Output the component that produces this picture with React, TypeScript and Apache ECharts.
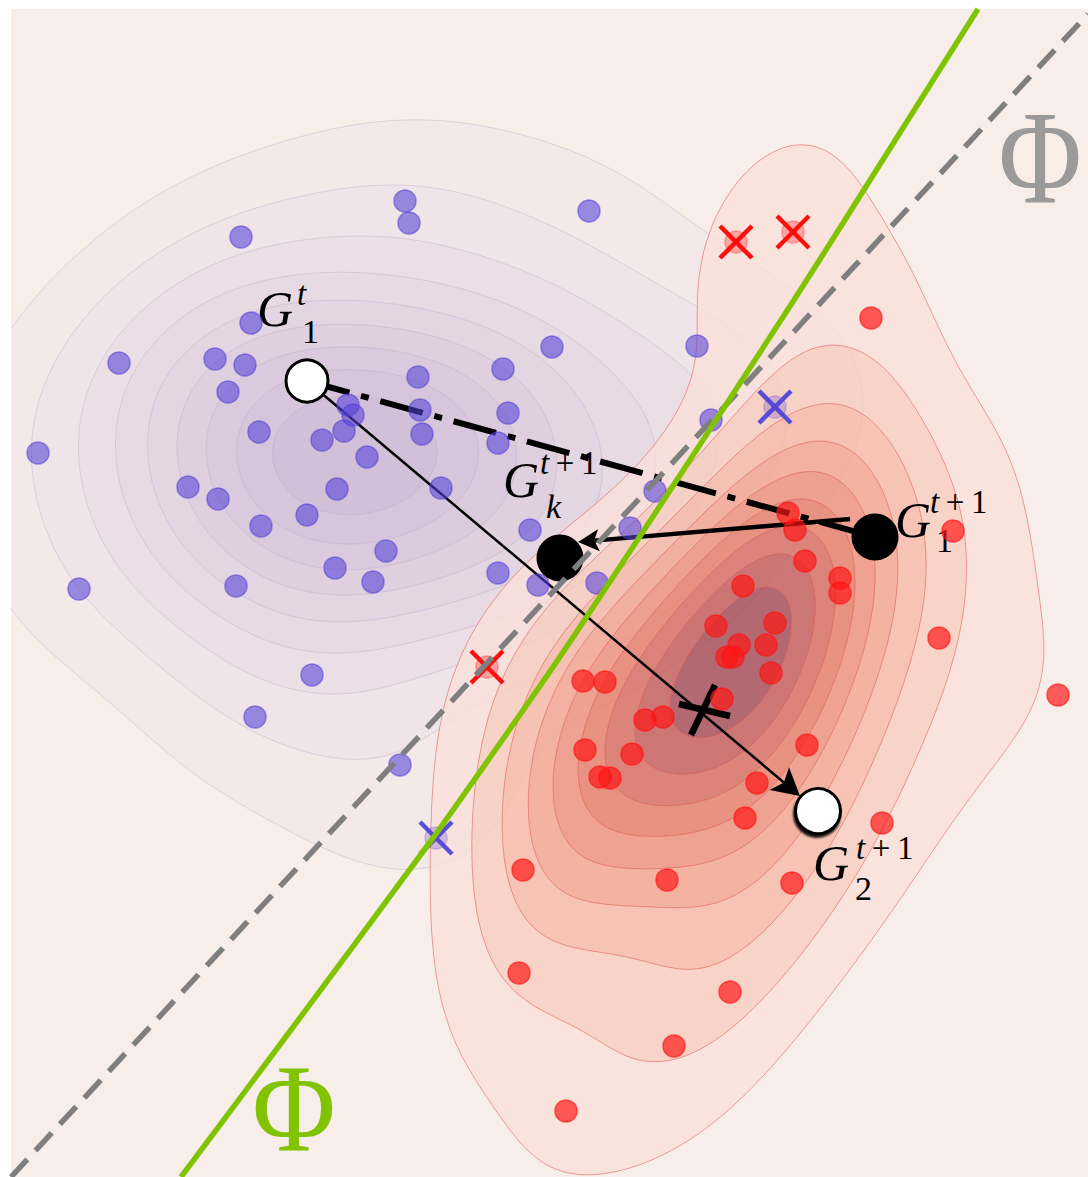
import React, { useEffect, useRef } from "react";
import * as echarts from "echarts";

type Pt = [number, number];

// Visible window of the feature plane
const X_RANGE: Pt = [0, 10.77];
const Y_RANGE: Pt = [0, 11.68];

// Class A samples (blue)
const bluePoints: Pt[] = [
  [3.94, 9.76], [3.98, 9.54], [2.30, 9.40], [5.78, 9.66], [2.40, 8.54],
  [1.08, 8.14], [2.04, 8.18], [2.34, 8.12], [2.17, 7.85], [4.07, 8.00],
  [4.92, 8.08], [5.41, 8.30], [6.86, 8.31], [3.37, 7.72], [3.42, 7.62],
  [4.09, 7.67], [4.97, 7.64], [2.48, 7.45], [3.11, 7.37], [3.33, 7.46],
  [4.11, 7.43], [3.56, 7.20], [0.27, 7.24], [4.87, 7.34], [3.26, 6.88],
  [4.30, 6.89], [1.77, 6.90], [2.07, 6.78], [2.96, 6.62], [2.50, 6.51],
  [3.75, 6.26], [3.24, 6.09], [3.62, 5.95], [0.68, 5.88], [2.25, 5.91],
  [5.19, 6.47], [4.87, 6.04], [5.27, 5.92], [5.86, 5.94], [6.19, 6.49],
  [6.44, 6.86], [7.00, 7.57], [3.01, 5.02], [2.44, 4.60], [3.89, 4.12],
];

// Class B samples (red)
const redPoints: Pt[] = [
  [8.60, 8.59], [7.77, 6.64], [7.84, 6.47], [7.94, 6.16], [8.29, 5.99],
  [8.29, 5.84], [7.32, 5.91], [7.05, 5.51], [7.64, 5.54], [7.28, 5.32],
  [7.55, 5.32], [7.16, 5.20], [7.22, 5.20], [7.60, 5.04], [7.11, 4.78],
  [6.52, 4.60], [6.34, 4.57], [5.94, 4.95], [5.72, 4.96], [5.74, 4.27],
  [6.21, 4.23], [5.89, 4.00], [5.99, 3.99], [7.96, 4.32], [7.46, 3.94],
  [7.34, 3.59], [8.71, 3.54], [6.56, 2.97], [7.81, 2.94], [5.12, 3.07],
  [9.42, 6.46], [9.28, 5.39], [10.47, 4.82], [5.08, 2.04], [7.19, 1.85],
  [6.63, 1.31], [5.55, 0.66],
];

// Samples with flipped labels (drawn with a cross)
const blueFlipped: Pt[] = [[7.64, 7.70], [4.25, 3.39]];
const redFlipped: Pt[] = [[7.25, 9.35], [7.82, 9.45], [4.76, 5.10]];

// Group centres: G1^t, Gk^{t+1}, G1^{t+1}, G2^{t+1}
const centroids: Pt[] = [[2.96, 7.96], [5.49, 6.19], [8.64, 6.40], [8.07, 3.66]];
const centroidSup = ["t", "t+1", "t+1", "t+1"];
const centroidSub = ["1", "k", "1", "2"];
const meanMarker: Pt = [6.92, 4.66];

// Links between centres: [fromX, fromY, toX, toY]
const links: number[][] = [
  [2.96, 7.96, 8.64, 6.40], // dash-dot G1^t -> G1^{t+1}
  [2.96, 7.96, 7.89, 3.81], // arrow G1^t -> G2^{t+1}
  [8.39, 6.58, 5.67, 6.35], // arrow G1^{t+1} -> Gk^{t+1}
];

// Decision boundaries
const boundaryGreen: Pt[] = [
  [9.67, 11.68], [8.32, 9.54], [7.83, 8.77], [6.92, 7.37], [6.41, 6.59],
  [5.42, 5.10], [4.22, 3.39], [2.65, 1.27], [1.70, 0.0],
];
const boundaryGray: Pt[] = [[0, 0], [10.77, 11.63]];

// Filled density bands, outer -> inner
const blueBandColors = [
  "rgb(243,233,233)", "rgb(239,228,231)", "rgb(235,223,229)", "rgb(231,218,227)",
  "rgb(227,213,225)", "rgb(223,207,223)", "rgb(219,202,221)", "rgb(215,197,219)",
  "rgb(210,191,216)",
];
const redBandColors = [
  "rgba(250,223,217,0.8)", "rgba(248,204,190,0.8)", "rgba(246,184,166,0.8)",
  "rgba(242,164,142,0.8)", "rgba(236,143,122,0.8)", "rgba(227,123,104,0.8)",
  "rgba(213,104,94,0.8)", "rgba(193,88,88,0.8)", "rgba(161,71,82,0.8)",
];

const FONT = '"Liberation Serif", "Times New Roman", serif';

interface DensityGrid {
  nx: number;
  ny: number;
  x0: number;
  y0: number;
  step: number;
  vals: Float64Array;
}

// Gaussian KDE with Scott's bandwidth and the full sample covariance
function gaussianKde(points: Pt[], bwAdjust: number): DensityGrid {
  const x0 = -3, y0 = -3, step = 0.05;
  const nx = Math.round(17 / step) + 1;
  const ny = Math.round(18 / step) + 1;
  const n = points.length;
  let mx = 0, my = 0;
  for (const p of points) { mx += p[0]; my += p[1]; }
  mx /= n; my /= n;
  let sxx = 0, syy = 0, sxy = 0;
  for (const p of points) {
    const dx = p[0] - mx, dy = p[1] - my;
    sxx += dx * dx; syy += dy * dy; sxy += dx * dy;
  }
  sxx /= n - 1; syy /= n - 1; sxy /= n - 1;
  const f = Math.pow(n, -1 / 6) * bwAdjust;
  const a = sxx * f * f, c = syy * f * f, b = sxy * f * f;
  const det = a * c - b * b;
  const ia = c / det, ib = -b / det, ic = a / det;
  const vals = new Float64Array(nx * ny);
  for (let j = 1; j < ny - 1; j++) {
    const y = y0 + j * step;
    for (let i = 1; i < nx - 1; i++) {
      const x = x0 + i * step;
      let s = 0;
      for (let k = 0; k < n; k++) {
        const dx = x - points[k][0], dy = y - points[k][1];
        s += Math.exp(-0.5 * (ia * dx * dx + 2 * ib * dx * dy + ic * dy * dy));
      }
      vals[j * nx + i] = s;
    }
  }
  return { nx, ny, x0, y0, step, vals };
}

// Evenly spaced density levels between zero and the peak
function linearLevels(vals: Float64Array, count: number): number[] {
  let vmax = 0;
  for (let i = 0; i < vals.length; i++) if (vals[i] > vmax) vmax = vals[i];
  const out: number[] = [];
  for (let k = 1; k <= count; k++) out.push((vmax * k) / (count + 1));
  return out;
}

// Marching squares; every loop keeps the denser side on its left
function contourLoops(g: DensityGrid, level: number): Pt[][] {
  const { nx, ny, vals, x0, y0, step } = g;
  const next = new Map<number, number>();
  const h = (i: number, j: number) => (j * nx + i) * 2;
  const v = (i: number, j: number) => (j * nx + i) * 2 + 1;
  for (let j = 0; j < ny - 1; j++) {
    for (let i = 0; i < nx - 1; i++) {
      const a = vals[j * nx + i];
      const b = vals[j * nx + i + 1];
      const c = vals[(j + 1) * nx + i + 1];
      const d = vals[(j + 1) * nx + i];
      const idx = (a > level ? 1 : 0) | (b > level ? 2 : 0) | (c > level ? 4 : 0) | (d > level ? 8 : 0);
      if (idx === 0 || idx === 15) continue;
      const B = h(i, j), R = v(i + 1, j), T = h(i, j + 1), L = v(i, j);
      const centerIn = (a + b + c + d) / 4 > level;
      switch (idx) {
        case 1: next.set(B, L); break;
        case 2: next.set(R, B); break;
        case 3: next.set(R, L); break;
        case 4: next.set(T, R); break;
        case 5:
          if (centerIn) { next.set(B, R); next.set(T, L); } else { next.set(B, L); next.set(T, R); }
          break;
        case 6: next.set(T, B); break;
        case 7: next.set(T, L); break;
        case 8: next.set(L, T); break;
        case 9: next.set(B, T); break;
        case 10:
          if (centerIn) { next.set(L, B); next.set(R, T); } else { next.set(R, B); next.set(L, T); }
          break;
        case 11: next.set(R, T); break;
        case 12: next.set(L, R); break;
        case 13: next.set(B, R); break;
        case 14: next.set(L, B); break;
      }
    }
  }
  const edgePoint = (id: number): Pt => {
    const vert = id & 1;
    const cell = id >> 1;
    const i = cell % nx;
    const j = (cell - i) / nx;
    const va = vals[j * nx + i];
    if (!vert) {
      const vb = vals[j * nx + i + 1];
      const t = (level - va) / (vb - va);
      return [x0 + (i + t) * step, y0 + j * step];
    }
    const vb = vals[(j + 1) * nx + i];
    const t = (level - va) / (vb - va);
    return [x0 + i * step, y0 + (j + t) * step];
  };
  const seen = new Set<number>();
  const loops: Pt[][] = [];
  for (const start of next.keys()) {
    if (seen.has(start)) continue;
    const loop: Pt[] = [];
    let e: number | undefined = start;
    while (e !== undefined && !seen.has(e)) {
      seen.add(e);
      loop.push(edgePoint(e));
      e = next.get(e);
    }
    if (loop.length > 2) loops.push(loop);
  }
  return loops;
}

function densityLoops(points: Pt[], bwAdjust: number): Pt[][][] {
  const g = gaussianKde(points, bwAdjust);
  const levels = linearLevels(g.vals, 9);
  return levels.map((l) => contourLoops(g, l));
}

function kdeSeries(loops: Pt[][][], fills: string[], lineColor: string) {
  const nb = fills.length;
  const data: number[][] = [];
  for (let i = 0; i < nb * 2; i++) data.push([0, 0]);
  return {
    type: "custom",
    coordinateSystem: "cartesian2d",
    silent: true,
    clip: true,
    data,
    renderItem: (params: any, api: any) => {
      const toD = (loop: Pt[], rev: boolean) => {
        const pts = rev ? loop.slice().reverse() : loop;
        return (
          "M" +
          pts
            .map((p) => {
              const c = api.coord(p);
              return c[0].toFixed(1) + " " + c[1].toFixed(1);
            })
            .join("L") +
          "Z"
        );
      };
      const idx = params.dataIndex;
      if (idx < nb) {
        let d = loops[idx].map((l) => toD(l, false)).join("");
        if (idx + 1 < nb) d += loops[idx + 1].map((l) => toD(l, true)).join("");
        if (!d) return { type: "group", children: [] };
        return { type: "path", shape: { pathData: d }, style: { fill: fills[idx], stroke: "none" } };
      }
      const li = idx - nb;
      const d = loops[li].map((l) => toD(l, false)).join("");
      if (!d) return { type: "group", children: [] };
      return {
        type: "path",
        shape: { pathData: d },
        style: { fill: "none", stroke: lineColor, lineWidth: 1 },
      };
    },
  };
}

function crossSeries(points: Pt[], color: string) {
  return {
    type: "custom",
    coordinateSystem: "cartesian2d",
    silent: true,
    data: points,
    renderItem: (_params: any, api: any) => {
      const c = api.coord([api.value(0), api.value(1)]);
      const r = 16;
      const st = { stroke: color, lineWidth: 4.5, lineCap: "butt" };
      return {
        type: "group",
        children: [
          { type: "line", shape: { x1: c[0] - r, y1: c[1] - r, x2: c[0] + r, y2: c[1] + r }, style: st },
          { type: "line", shape: { x1: c[0] - r, y1: c[1] + r, x2: c[0] + r, y2: c[1] - r }, style: st },
        ],
      };
    },
  };
}

function buildOption() {
  const blueLoops = densityLoops([...bluePoints, ...blueFlipped], 1.25);
  const redLoops = densityLoops([...redPoints, ...redFlipped], 1.2);

  const dotStyle = (rgb: string, alpha: number) => ({
    color: `rgba(${rgb},${alpha})`,
    borderColor: `rgba(${rgb},${alpha})`,
    borderWidth: 1.5,
    opacity: 1,
  });

  const linkStyles = [
    { width: 6, dash: [44, 12, 8, 12], head: 0 },
    { width: 2.5, dash: null, head: 27, half: 15 },
    { width: 4.5, dash: null, head: 21, half: 11 },
  ];

  const labelLayout = [
    { g: [-32, -72], sup: [-10, -87], sub: [-5, -50] },
    { g: [-39, -78], sup: [-20, -95], sub: [-14, -52] },
    { g: [38, -17], sup: [55, -35], sub: [61, 3] },
    { g: [13, 52], sup: [38, 37], sub: [37, 77] },
  ];

  const phi = (x: number, y: number, size: number, sx: number, color: string) => ({
    type: "text",
    x,
    y,
    scaleX: sx,
    z: 100,
    style: {
      text: "Φ",
      fontFamily: FONT,
      fontSize: size,
      lineHeight: size * 0.72,
      fill: color,
      align: "center",
      verticalAlign: "middle",
    },
  });

  return {
    animation: false,
    backgroundColor: "#ffffff",
    grid: { left: 11, top: 9, right: 0, bottom: 0, show: true, backgroundColor: "#f8eee9", borderWidth: 0 },
    xAxis: { type: "value", min: X_RANGE[0], max: X_RANGE[1], show: false },
    yAxis: { type: "value", min: Y_RANGE[0], max: Y_RANGE[1], show: false },
    series: [
      kdeSeries(blueLoops, blueBandColors, "rgba(140,115,170,0.22)"),
      kdeSeries(redLoops, redBandColors, "rgba(215,60,50,0.45)"),
      {
        type: "scatter",
        silent: true,
        symbolSize: 22,
        itemStyle: dotStyle("85,65,215", 0.25),
        data: blueFlipped,
      },
      {
        type: "scatter",
        silent: true,
        symbolSize: 22,
        itemStyle: dotStyle("255,20,20", 0.3),
        data: redFlipped,
      },
      {
        type: "scatter",
        silent: true,
        symbolSize: 22,
        itemStyle: dotStyle("85,65,215", 0.58),
        data: bluePoints,
      },
      {
        type: "scatter",
        silent: true,
        symbolSize: 22,
        itemStyle: dotStyle("255,20,20", 0.68),
        data: redPoints,
      },
      {
        type: "line",
        silent: true,
        showSymbol: false,
        data: boundaryGray,
        lineStyle: { color: "#7f7f7f", width: 5.5, type: [24, 12] },
      },
      {
        type: "line",
        silent: true,
        showSymbol: false,
        smooth: 0.2,
        data: boundaryGreen,
        lineStyle: { color: "#80c300", width: 5.5 },
      },
      {
        type: "custom",
        coordinateSystem: "cartesian2d",
        silent: true,
        data: links,
        renderItem: (params: any, api: any) => {
          const p0 = api.coord([api.value(0), api.value(1)]);
          const p1 = api.coord([api.value(2), api.value(3)]);
          const s: any = linkStyles[params.dataIndex];
          if (!s.head) {
            return {
              type: "line",
              shape: { x1: p0[0], y1: p0[1], x2: p1[0], y2: p1[1] },
              style: { stroke: "#000", lineWidth: s.width, lineDash: s.dash, lineCap: "butt" },
            };
          }
          const dx = p1[0] - p0[0], dy = p1[1] - p0[1];
          const len = Math.hypot(dx, dy);
          const ux = dx / len, uy = dy / len;
          const bx = p1[0] - ux * s.head, by = p1[1] - uy * s.head;
          const nxp = p1[0] - ux * s.head * 0.78, nyp = p1[1] - uy * s.head * 0.78;
          return {
            type: "group",
            children: [
              {
                type: "line",
                shape: { x1: p0[0], y1: p0[1], x2: nxp, y2: nyp },
                style: { stroke: "#000", lineWidth: s.width },
              },
              {
                type: "polygon",
                shape: {
                  points: [
                    [p1[0], p1[1]],
                    [bx - uy * s.half, by + ux * s.half],
                    [nxp, nyp],
                    [bx + uy * s.half, by - ux * s.half],
                  ],
                },
                style: { fill: "#000" },
              },
            ],
          };
        },
      },
      crossSeries(blueFlipped, "rgba(80,70,215,0.95)"),
      crossSeries(redFlipped, "rgba(255,0,0,0.95)"),
      {
        type: "custom",
        coordinateSystem: "cartesian2d",
        silent: true,
        data: [meanMarker],
        renderItem: (_params: any, api: any) => {
          const c = api.coord([api.value(0), api.value(1)]);
          const st = { stroke: "#000", lineWidth: 6.5, lineCap: "butt" };
          return {
            type: "group",
            children: [
              { type: "line", shape: { x1: c[0] - 24, y1: c[1] - 7, x2: c[0] + 27, y2: c[1] + 5 }, style: st },
              { type: "line", shape: { x1: c[0] + 12, y1: c[1] - 26, x2: c[0] - 12, y2: c[1] + 24 }, style: st },
            ],
          };
        },
      },
      {
        type: "scatter",
        silent: true,
        itemStyle: { opacity: 1 },
        data: [
          { value: centroids[0], symbolSize: 42, itemStyle: { color: "#ffffff", borderColor: "#000", borderWidth: 3, opacity: 1 } },
          { value: centroids[1], symbolSize: 47, itemStyle: { color: "#000000", opacity: 1 } },
          { value: centroids[2], symbolSize: 47, itemStyle: { color: "#000000", opacity: 1 } },
          {
            value: centroids[3],
            symbolSize: 45,
            itemStyle: {
              color: "#ffffff",
              borderColor: "#000",
              borderWidth: 3,
              opacity: 1,
              shadowColor: "rgba(0,0,0,0.9)",
              shadowBlur: 2,
              shadowOffsetX: -1,
              shadowOffsetY: 3,
            },
          },
        ],
      },
      {
        type: "custom",
        coordinateSystem: "cartesian2d",
        silent: true,
        data: centroids,
        renderItem: (params: any, api: any) => {
          const c = api.coord([api.value(0), api.value(1)]);
          const i = params.dataIndex;
          const L = labelLayout[i];
          const sup = centroidSup[i];
          const supRich = sup.length > 1 ? "{i|t}{n|\u2009+\u20091}" : "{i|t}";
          const subItalic = /[a-z]/.test(centroidSub[i]);
          return {
            type: "group",
            children: [
              {
                type: "text",
                x: c[0] + L.g[0],
                y: c[1] + L.g[1],
                style: {
                  text: "G",
                  fontFamily: FONT,
                  fontSize: 50,
                  fontStyle: "italic",
                  fill: "#000",
                  align: "center",
                  verticalAlign: "middle",
                },
              },
              {
                type: "text",
                x: c[0] + L.sup[0],
                y: c[1] + L.sup[1],
                style: {
                  text: supRich,
                  fontFamily: FONT,
                  fontSize: 33,
                  fill: "#000",
                  align: "left",
                  verticalAlign: "middle",
                  rich: {
                    i: { fontFamily: FONT, fontSize: 33, fontStyle: "italic", fill: "#000" },
                    n: { fontFamily: FONT, fontSize: 33, fontStyle: "normal", fill: "#000" },
                  },
                },
              },
              {
                type: "text",
                x: c[0] + L.sub[0],
                y: c[1] + L.sub[1],
                style: {
                  text: centroidSub[i],
                  fontFamily: FONT,
                  fontSize: 34,
                  fontStyle: subItalic ? "italic" : "normal",
                  fill: "#000",
                  align: "left",
                  verticalAlign: "middle",
                },
              },
            ],
          };
        },
      },
    ],
    graphic: [phi(1040, 158, 134, 0.85, "#9a9a9a"), phi(294, 1109, 124, 0.92, "#82c300")],
  };
}

export default function App() {
  const ref = useRef<HTMLDivElement>(null);
  useEffect(() => {
    if (!ref.current) return;
    const chart = echarts.init(ref.current, undefined, { renderer: "svg" });
    chart.setOption(buildOption() as any);
    return () => chart.dispose();
  }, []);
  return (
    <div
      ref={ref}
      style={{ position: "fixed", left: 0, top: 0, width: 1088, height: 1177, background: "#ffffff" }}
    />
  );
}
